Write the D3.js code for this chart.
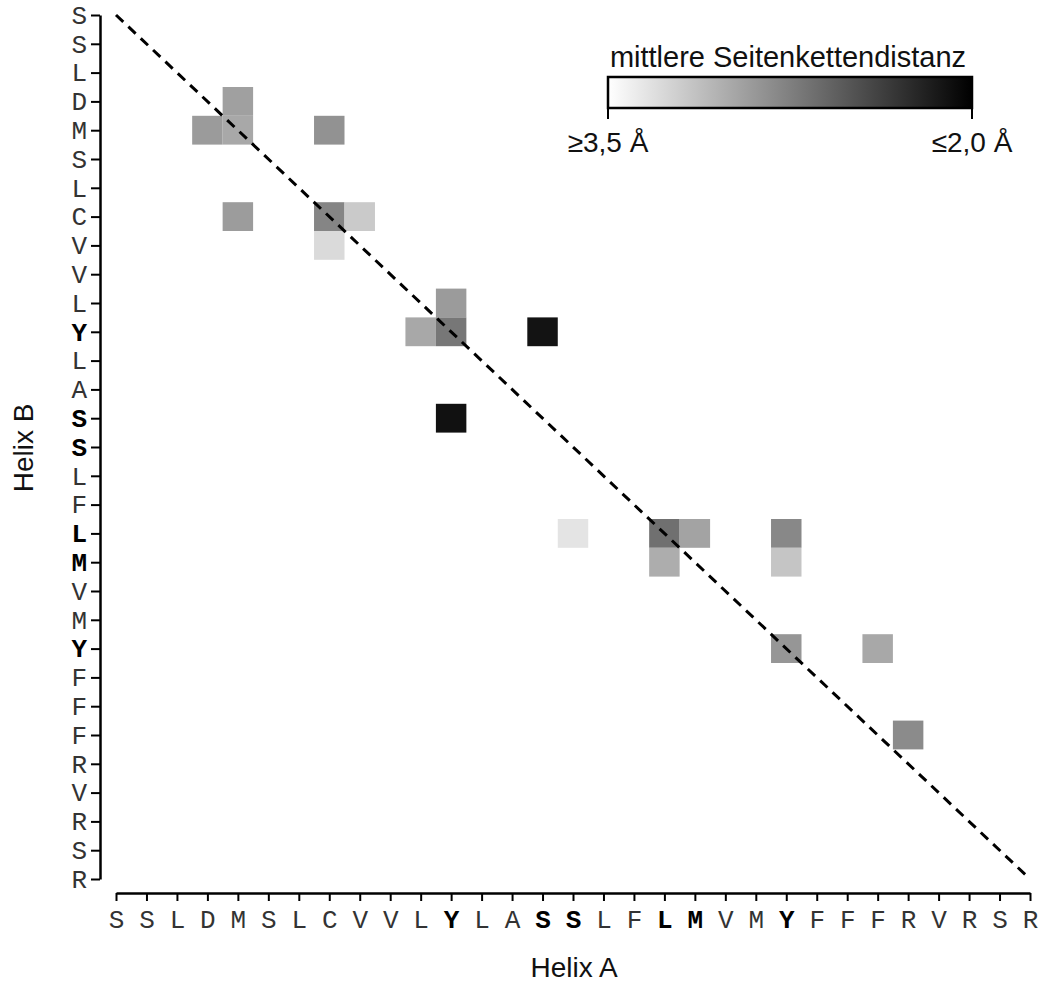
<!DOCTYPE html>
<html>
<head>
<meta charset="utf-8">
<script src="https://cdn.jsdelivr.net/npm/d3@7"></script>
<style>
  body { margin: 0; background: #fff; }
  .seq text { font-family: "Liberation Mono", "Courier New", monospace; font-size: 26px; fill: #333; }
  .seq .bold { font-weight: bold; fill: #000; }
  .lbl { font-family: Arial, "Liberation Sans", sans-serif; font-size: 28px; fill: #111; }
</style>
</head>
<body>
<script>
// sequences of the two helices
let helixA = ["S","S","L","D","M","S","L","C","V","V","L","Y","L","A","S","S","L","F","L","M","V","M","Y","F","F","F","R","V","R","S","R"];
let helixB = ["S","S","L","D","M","S","L","C","V","V","L","Y","L","A","S","S","L","F","L","M","V","M","Y","F","F","F","R","V","R","S","R"];
let boldA = [11, 14, 15, 18, 19, 22];
let boldB = [11, 14, 15, 18, 19, 22];

// contacts: column in helix A, row in helix B, mean side chain distance (Å)
let cellA = [4, 3, 4, 7, 4, 7, 8, 7, 11, 10, 11, 14, 11, 15, 18, 19, 18, 22, 22, 22, 25, 26];
let cellB = [3, 4, 4, 4, 7, 7, 7, 8, 10, 11, 11, 11, 14, 18, 18, 18, 19, 18, 19, 22, 22, 25];
let cellDist = [2.94, 2.91, 2.99, 2.86, 2.92, 2.78, 3.19, 3.28, 2.91, 2.99, 2.70, 2.11, 2.10, 3.34, 2.66, 2.96, 3.02, 2.80, 3.16, 2.88, 2.99, 2.82];

let distRange = [3.5, 2.0];
let legendLabels = ["≥3,5 Å", "≤2,0 Å"];

let width = 1042, height = 984;

let svg = d3.select("body").append("svg")
    .attr("width", width)
    .attr("height", height);

let x = d3.scalePoint()
    .domain(d3.range(helixA.length))
    .range([116, 1030]);

let y = d3.scalePoint()
    .domain(d3.range(helixB.length))
    .range([15, 879]);

let color = d3.scaleLinear()
    .domain(distRange)
    .range(["#ffffff", "#000000"])
    .clamp(true);

let cw = x.step(), ch = y.step();

// cells
svg.append("g")
    .selectAll("rect")
    .data(cellDist)
    .enter().append("rect")
    .attr("x", (d, i) => x(cellA[i]) - cw / 2)
    .attr("y", (d, i) => y(cellB[i]) - ch / 2)
    .attr("width", cw)
    .attr("height", ch)
    .attr("fill", d => color(d));

// diagonal
svg.append("line")
    .attr("x1", x(0)).attr("y1", y(0))
    .attr("x2", x(helixA.length - 1)).attr("y2", y(helixB.length - 1))
    .attr("stroke", "#000")
    .attr("stroke-width", 3)
    .attr("stroke-dasharray", "10,7");

// x axis
let xAxis = svg.append("g")
    .attr("class", "seq")
    .attr("transform", "translate(0,893)")
    .call(d3.axisBottom(x).tickSize(8).tickSizeOuter(0).tickPadding(9).tickFormat(i => helixA[i]));

// y axis
let yAxis = svg.append("g")
    .attr("class", "seq")
    .attr("transform", "translate(100,0)")
    .call(d3.axisLeft(y).tickSize(9).tickSizeOuter(0).tickPadding(4).tickFormat(i => helixB[i]));

[xAxis, yAxis].forEach(ax => {
    ax.selectAll("path.domain").attr("stroke", "#000").attr("stroke-width", 2.5);
    ax.selectAll(".tick line").attr("stroke", "#000").attr("stroke-width", 2);
    ax.selectAll(".tick text").attr("font-family", null).attr("font-size", null).attr("fill", null);
});
xAxis.selectAll(".tick text").classed("bold", i => boldA.includes(i));
yAxis.selectAll(".tick text").classed("bold", i => boldB.includes(i));

// axis titles
svg.append("text")
    .attr("class", "lbl")
    .attr("x", 574).attr("y", 977)
    .attr("text-anchor", "middle")
    .text("Helix A");

svg.append("text")
    .attr("class", "lbl")
    .attr("transform", "translate(33,448) rotate(-90)")
    .attr("text-anchor", "middle")
    .text("Helix B");

// legend
let lx = d3.scaleLinear().domain(distRange).range([608, 972]);

let grad = svg.append("defs").append("linearGradient")
    .attr("id", "grad");
grad.append("stop").attr("offset", "0%").attr("stop-color", color(distRange[0]));
grad.append("stop").attr("offset", "100%").attr("stop-color", color(distRange[1]));

let legend = svg.append("g");

legend.append("text")
    .attr("class", "lbl")
    .attr("x", (lx(distRange[0]) + lx(distRange[1])) / 2 - 2)
    .attr("y", 67)
    .attr("text-anchor", "middle")
    .style("font-size", "29px")
    .text("mittlere Seitenkettendistanz");

legend.append("rect")
    .attr("x", lx(distRange[0]))
    .attr("y", 77)
    .attr("width", lx(distRange[1]) - lx(distRange[0]))
    .attr("height", 31)
    .attr("fill", "url(#grad)")
    .attr("stroke", "#000")
    .attr("stroke-width", 2.5);

legend.selectAll(".ltick")
    .data(distRange)
    .enter().append("line")
    .attr("x1", d => lx(d)).attr("x2", d => lx(d))
    .attr("y1", 108).attr("y2", 119)
    .attr("stroke", "#000")
    .attr("stroke-width", 2);

legend.selectAll(".llbl")
    .data(distRange)
    .enter().append("text")
    .attr("class", "lbl")
    .attr("x", d => lx(d))
    .attr("y", 152)
    .attr("text-anchor", "middle")
    .text((d, i) => legendLabels[i]);
</script>
</body>
</html>
